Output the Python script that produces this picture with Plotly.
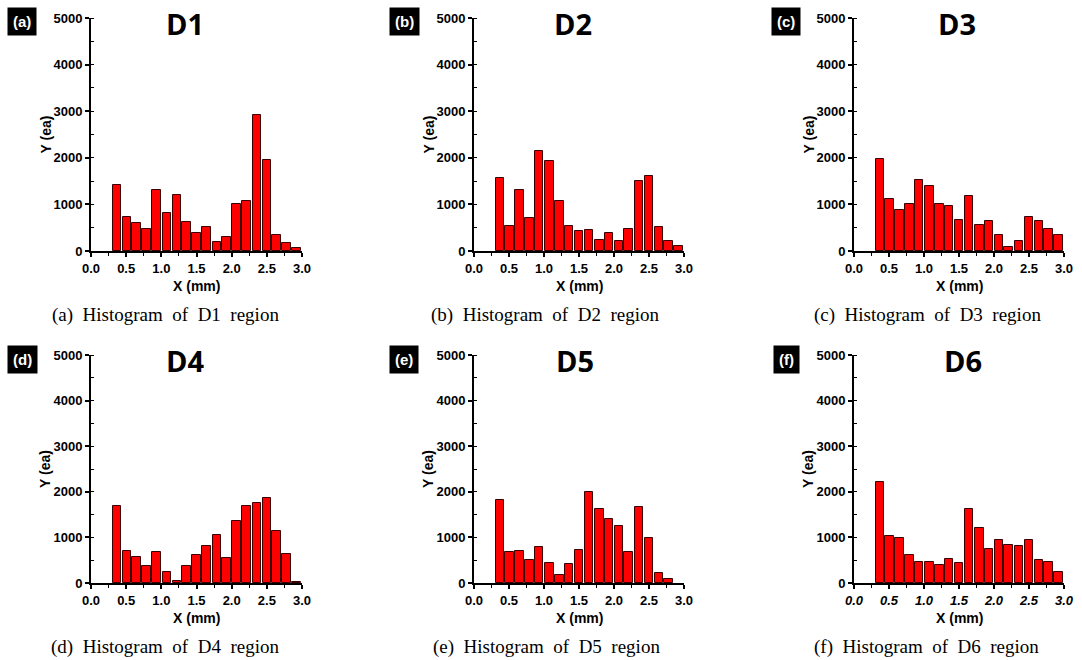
import plotly.graph_objects as go

# ---------------- data ----------------
X_CENTERS = [0.37, 0.51, 0.65, 0.79, 0.93, 1.08, 1.22, 1.36, 1.50, 1.64,
             1.79, 1.93, 2.07, 2.21, 2.36, 2.50, 2.64, 2.78, 2.92]

D1 = [1420, 740, 610, 465, 1300, 825, 1195, 615, 395, 505,
      195, 300, 1015, 1065, 2920, 1955, 345, 170, 60]
D2 = [1560, 540, 1310, 710, 2150, 1925, 1070, 540, 425, 445,
      240, 395, 210, 465, 1510, 1600, 510, 210, 115]
D3 = [1965, 1125, 885, 1000, 1530, 1385, 1005, 960, 655, 1175,
      565, 650, 350, 95, 225, 735, 635, 470, 350]
D4 = [1680, 695, 570, 380, 685, 250, 45, 380, 620, 815,
      1045, 555, 1370, 1695, 1750, 1855, 1150, 630, 30]
D5 = [1825, 675, 695, 510, 780, 445, 175, 410, 715, 1985,
      1620, 1395, 1255, 685, 1665, 985, 210, 80]
D6 = [2225, 1030, 980, 620, 455, 470, 400, 520, 445, 1615,
      1205, 745, 935, 840, 810, 935, 505, 460, 235]

PANEL_NAMES = ["D1", "D2", "D3", "D4", "D5", "D6"]
PANEL_TAGS = ["(a)", "(b)", "(c)", "(d)", "(e)", "(f)"]
CAPTIONS = ["(a)  Histogram  of  D1  region", "(b)  Histogram  of  D2  region",
            "(c)  Histogram  of  D3  region", "(d)  Histogram  of  D4  region",
            "(e)  Histogram  of  D5  region", "(f)  Histogram  of  D6  region"]
SERIES = [D1, D2, D3, D4, D5, D6]
Y_TICKS = [0, 1000, 2000, 3000, 4000, 5000]
X_TICKS = [0.0, 0.5, 1.0, 1.5, 2.0, 2.5, 3.0]
X_TICK_TEXT = ["0.0", "0.5", "1.0", "1.5", "2.0", "2.5", "3.0"]

# ---------------- layout (window pixels) ----------------
W, H = 1082, 660
COLS = [(91, 302), (474, 684), (854, 1064)]
ROWS = [(18, 251), (355, 583)]
TAG_X = [22, 404, 786]
TITLE_X = [[185, 573, 957], [185, 575, 963]]
CAP_X = [[165, 545, 927], [165, 546, 926]]


def px(x):
    return x / W


def py(y):
    return 1 - y / H


fig = go.Figure()
annotations = []
tick_font = dict(family="Liberation Sans, Arial", size=13, color="black", weight="bold")

for i, vals in enumerate(SERIES):
    r, c = divmod(i, 3)
    x0, x1 = COLS[c]
    y0, y1 = ROWS[r]
    xa = "x" if i == 0 else f"x{i+1}"
    ya = "y" if i == 0 else f"y{i+1}"
    xk = "xaxis" if i == 0 else f"xaxis{i+1}"
    yk = "yaxis" if i == 0 else f"yaxis{i+1}"

    fig.add_trace(go.Bar(
        x=X_CENTERS[:len(vals)], y=vals, width=0.122,
        marker=dict(color="#ff0000", line=dict(color="#3a0000", width=1)),
        xaxis=xa, yaxis=ya, showlegend=False))

    xtf = dict(tick_font)
    if i == 5:
        xtf["style"] = "italic"

    fig.update_layout(**{
        xk: dict(domain=[px(x0), px(x1)], anchor=ya, range=[0, 3],
                 tickvals=X_TICKS, ticktext=X_TICK_TEXT, ticks="outside",
                 ticklen=4, tickwidth=1.5, tickcolor="black",
                 minor=dict(ticks="outside", ticklen=3, tickwidth=1, tickcolor="black", dtick=0.25),
                 showline=True, linecolor="black", linewidth=2, automargin=False,
                 showgrid=False, zeroline=False, tickfont=xtf),
        yk: dict(domain=[py(y1), py(y0)], anchor=xa, range=[0, 5000],
                 tickvals=Y_TICKS, ticks="outside", ticklen=4, tickwidth=1.5,
                 tickcolor="black", automargin=False,
                 minor=dict(ticks="inside", ticklen=3, tickwidth=1, tickcolor="black", dtick=500),
                 showline=True, linecolor="black", linewidth=2,
                 showgrid=False, zeroline=False, tickfont=tick_font),
    })

    # panel tag box
    annotations.append(dict(
        x=px(TAG_X[c]), y=py(y0 + 4), xref="paper", yref="paper",
        text=PANEL_TAGS[i], showarrow=False, xanchor="center", yanchor="middle",
        bgcolor="black", borderpad=5,
        font=dict(family="Liberation Sans, Arial", size=15, color="white", weight="bold")))
    # title
    annotations.append(dict(
        x=px(TITLE_X[r][c]), y=py(y0 + 5), xref="paper", yref="paper",
        text=PANEL_NAMES[i], showarrow=False, xanchor="center", yanchor="middle",
        font=dict(family="Open Sans", size=29, color="black", weight="bold")))
    # y title
    annotations.append(dict(
        x=px(x0 - 46), y=py((y0 + y1) / 2), xref="paper", yref="paper",
        text="Y (ea)", showarrow=False, textangle=-90, xanchor="center", yanchor="middle",
        font=dict(family="Liberation Sans, Arial", size=14, color="black", weight="bold")))
    # x title
    annotations.append(dict(
        x=px((x0 + x1) / 2), y=py(y1 + 35), xref="paper", yref="paper",
        text="X (mm)", showarrow=False, xanchor="center", yanchor="middle",
        font=dict(family="Liberation Sans, Arial", size=14, color="black", weight="bold")))
    # caption
    annotations.append(dict(
        x=px(CAP_X[r][c]), y=py(y1 + 64), xref="paper", yref="paper",
        text=CAPTIONS[i].replace("  ", " \u00a0"), showarrow=False,
        xanchor="center", yanchor="middle",
        font=dict(family="Liberation Serif, Times New Roman", size=19, color="black")))

fig.update_layout(
    width=W, height=H, margin=dict(l=0, r=0, t=0, b=0, autoexpand=False),
    paper_bgcolor="white", plot_bgcolor="white",
    bargap=0, annotations=annotations)

# remove the default page margin so the figure fills the window exactly
fig.write_html("out.html", config={"displayModeBar": False},
               post_script="document.body.style.margin='0';")
